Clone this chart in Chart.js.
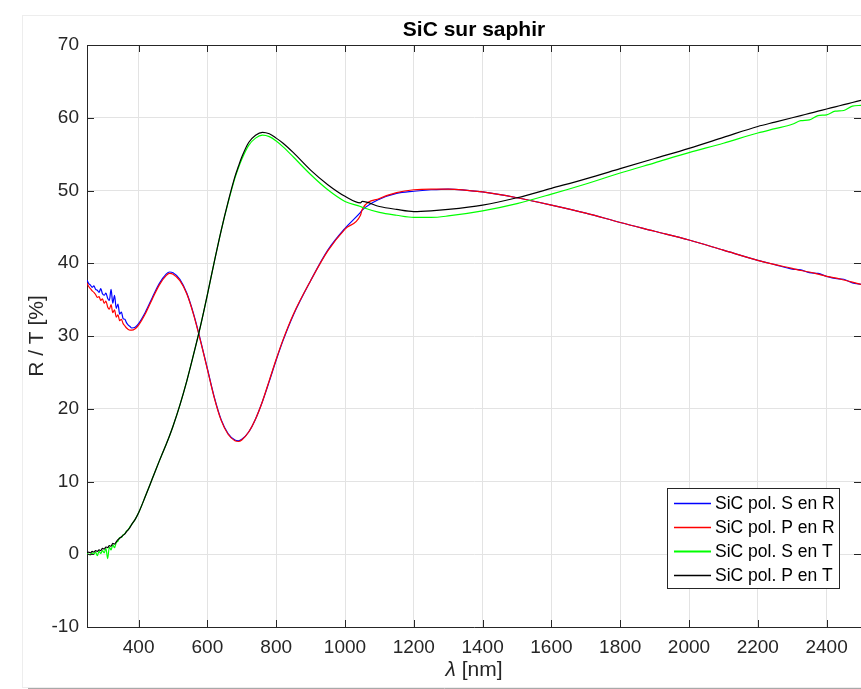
<!DOCTYPE html>
<html><head><meta charset="utf-8">
<script src="https://cdn.jsdelivr.net/npm/chart.js@4.4.1/dist/chart.umd.min.js"></script>
<style>html,body{margin:0;padding:0;background:#fff;overflow:hidden;}canvas{display:block;}</style>
</head><body>
<canvas id="c" width="861" height="689" style="width:861px;height:689px"></canvas>
<script>
// ---- data ----
const wavelengths = [
  250,255,260,265,270,275,280,285,290,295,300,305,310,315,320,325,330,335,340,345,350,355,360,365,370,375,380,
  390,400,420,440,460,480,490,500,
  520,540,560,580,600,620,640,660,680,690,700,
  720,740,760,780,800,
  820,850,900,950,1000,1045,1050,
  1100,1150,1200,1250,1300,
  1400,1500,1600,1700,1800,1900,2000,2100,2200,
  2250,2300,2325,2350,2375,2400,2425,2450,2475,2500];

const rPolS = [
  37.7,37.2,37.0,36.7,36.9,36.4,36.3,36.0,36.5,35.8,35.6,35.9,35.2,34.9,36.4,34.5,35.6,33.8,34.4,33.0,33.3,32.4,32.3,31.8,31.5,31.3,31.1,
  31.2,31.7,33.3,35.3,37.2,38.5,38.8,38.7,
  37.8,35.9,33.0,29.4,25.5,21.6,18.5,16.6,15.7,15.6,15.8,
  16.8,18.6,21.0,23.8,26.7,
  29.4,32.9,37.6,41.8,44.8,47.0,47.3,
  48.8,49.6,49.9,50.1,50.2,
  49.8,49.0,48.0,46.9,45.6,44.4,43.2,41.8,40.4,
  39.8,39.2,39.1,38.7,38.6,38.2,37.9,37.8,37.3,37.1];

const rPolP = [
  37.3,36.8,36.5,36.2,36.0,35.7,35.3,35.4,34.9,35.1,34.5,34.8,34.0,33.7,34.3,33.2,33.6,32.6,32.9,32.1,32.3,31.7,31.4,31.1,30.9,30.8,30.8,
  31.0,31.5,33.1,35.1,37.0,38.3,38.6,38.5,
  37.6,35.8,32.9,29.3,25.4,21.5,18.4,16.5,15.6,15.5,15.7,
  16.8,18.6,21.0,23.9,26.8,
  29.5,33.0,37.6,41.7,44.7,46.6,47.4,
  48.9,49.7,50.1,50.2,50.2,
  49.8,49.0,48.0,46.9,45.6,44.4,43.2,41.8,40.4,
  39.8,39.3,39.0,38.8,38.5,38.2,38.0,37.7,37.4,37.1];

const tPolS = [
  0.1,0.0,-0.1,0.2,0.0,0.3,-0.2,0.4,0.1,0.5,0.2,0.8,-0.6,1.0,0.6,1.3,0.9,1.6,1.8,2.3,2.3,2.7,2.8,3.2,3.4,3.8,4.1,
  4.8,5.7,8.0,10.4,12.8,15.1,16.3,17.6,
  20.5,23.8,27.5,31.4,35.7,40.2,44.5,48.3,51.7,53.1,54.3,
  56.2,57.2,57.6,57.4,56.8,
  56.0,54.6,52.2,50.1,48.5,47.8,47.7,
  47.0,46.6,46.3,46.3,46.5,
  47.2,48.2,49.5,50.9,52.4,53.8,55.2,56.5,57.9,
  58.5,59.1,59.6,59.7,60.3,60.4,60.9,61.0,61.6,61.7];

const tPolP = [
  0.2,0.3,0.2,0.4,0.3,0.5,0.4,0.6,0.5,0.8,0.7,1.0,0.9,1.2,1.1,1.5,1.4,1.7,2.0,2.2,2.4,2.6,2.8,3.1,3.4,3.7,4.1,
  4.8,5.7,8.0,10.4,12.8,15.1,16.3,17.6,
  20.5,23.8,27.5,31.4,35.7,40.2,44.5,48.4,51.9,53.3,54.6,
  56.6,57.6,58.0,57.8,57.2,
  56.5,55.2,52.8,50.8,49.2,48.3,48.5,
  47.8,47.4,47.1,47.2,47.4,
  48.0,49.0,50.3,51.6,53.0,54.4,55.8,57.3,58.8,
  59.4,60.0,60.3,60.6,60.9,61.2,61.5,61.8,62.1,62.4];

const xTicks = [400,600,800,1000,1200,1400,1600,1800,2000,2200,2400];
const yTicks = [-10,0,10,20,30,40,50,60,70];
const seriesLabels = ['SiC pol. S en R','SiC pol. P en R','SiC pol. S en T','SiC pol. P en T'];
const seriesColors = ['#0000ff','#ff0000','#00ff00','#000000'];
const titleText = 'SiC sur saphir';
const yTitle = 'R / T [%]';

// ---- chart ----
const FONT = "'Liberation Sans', Arial, Helvetica, sans-serif";
const INK = '#262626';
const pts = arr => wavelengths.map((w, i) => ({x: w, y: arr[i]}));
const values = [rPolS, rPolP, tPolS, tPolP];
const drawOrder = [4, 3, 2, 1];

const decor = {
  id: 'decor',
  beforeDraw(chart) {
    const ctx = chart.ctx;
    ctx.save();
    ctx.fillStyle = '#fff';
    ctx.fillRect(0, 0, chart.width, chart.height);
    ctx.strokeStyle = '#ededed';
    ctx.lineWidth = 1;
    ctx.strokeRect(22.5, 15.5, chart.width, 672);
    ctx.strokeStyle = '#a9a9a9';
    ctx.beginPath(); ctx.moveTo(28, 688.5); ctx.lineTo(chart.width, 688.5); ctx.stroke();
    ctx.restore();
  },
  afterDatasetsDraw(chart) {
    const ctx = chart.ctx, a = chart.chartArea;
    const xs = chart.scales.x, ys = chart.scales.y;
    ctx.save();
    ctx.strokeStyle = INK;
    ctx.lineWidth = 1;
    ctx.beginPath();
    ctx.moveTo(a.left, a.top + 0.5); ctx.lineTo(a.right, a.top + 0.5);
    const tl = 7;
    xTicks.forEach(v => {
      const px = Math.round(xs.getPixelForValue(v)) + 0.5;
      ctx.moveTo(px, a.bottom); ctx.lineTo(px, a.bottom - tl);
      ctx.moveTo(px, a.top); ctx.lineTo(px, a.top + tl);
    });
    yTicks.forEach(v => {
      const py = Math.round(ys.getPixelForValue(v)) + 0.5;
      ctx.moveTo(a.left, py); ctx.lineTo(a.left + tl, py);
      ctx.moveTo(a.right, py); ctx.lineTo(a.right - tl, py);
    });
    ctx.stroke();
    ctx.restore();
  },
  afterDraw(chart) {
    const ctx = chart.ctx, a = chart.chartArea;
    const cx = (a.left + a.right) / 2;
    ctx.save();
    ctx.fillStyle = '#000';
    ctx.font = 'bold 21px ' + FONT;
    ctx.textAlign = 'center';
    ctx.textBaseline = 'alphabetic';
    ctx.fillText(titleText, cx, 36);

    ctx.fillStyle = INK;
    const f1 = 'italic 21px ' + FONT, f2 = '21px ' + FONT;
    ctx.font = f1; const w1 = ctx.measureText('λ').width;
    ctx.font = f2; const w2 = ctx.measureText(' [nm]').width;
    const sx = cx - (w1 + w2) / 2;
    ctx.textAlign = 'left';
    ctx.font = f1; ctx.fillText('λ', sx, 676);
    ctx.font = f2; ctx.fillText(' [nm]', sx + w1, 676);

    ctx.save();
    ctx.translate(43, (a.top + a.bottom) / 2);
    ctx.rotate(-Math.PI / 2);
    ctx.textAlign = 'center';
    ctx.font = '21px ' + FONT;
    ctx.fillText(yTitle, 0, 0);
    ctx.restore();

    // legend
    const L = 667.5, T = 488.5, W = 172, H = 100;
    ctx.fillStyle = '#fff';
    ctx.fillRect(L, T, W, H);
    ctx.strokeStyle = INK;
    ctx.lineWidth = 1;
    ctx.strokeRect(L, T, W, H);
    ctx.font = '17.5px ' + FONT;
    ctx.textAlign = 'left';
    ctx.textBaseline = 'middle';
    seriesLabels.forEach((lab, i) => {
      const y = 503.5 + i * 24;
      ctx.strokeStyle = seriesColors[i];
      ctx.lineWidth = i === 2 ? 2 : 1.3;
      ctx.beginPath(); ctx.moveTo(674, y); ctx.lineTo(711, y); ctx.stroke();
      ctx.fillStyle = '#000';
      ctx.fillText(lab, 715, y + 1);
    });
    ctx.restore();
  }
};

new Chart(document.getElementById('c'), {
  type: 'line',
  data: {
    datasets: seriesLabels.map((lab, i) => ({
      label: lab,
      data: pts(values[i]),
      borderColor: seriesColors[i],
      backgroundColor: seriesColors[i],
      borderWidth: 1.2,
      pointRadius: 0,
      cubicInterpolationMode: 'monotone',
      fill: false,
      order: drawOrder[i]
    }))
  },
  options: {
    responsive: false,
    animation: false,
    devicePixelRatio: 1,
    layout: {padding: {top: 45, right: 0, bottom: 0, left: 0}},
    plugins: {legend: {display: false}, title: {display: false}, tooltip: {enabled: false}},
    scales: {
      x: {
        type: 'linear', min: 250, max: 2500,
        afterBuildTicks: s => { s.ticks = xTicks.map(v => ({value: v})); },
        afterFit: s => { s.height = 62; },
        ticks: {font: {family: FONT, size: 19}, color: INK, padding: 9, maxRotation: 0, autoSkip: false,
                callback: v => String(v)},
        grid: {color: '#e3e3e3', drawTicks: false},
        border: {display: true, color: INK}
      },
      y: {
        type: 'linear', min: -10, max: 70,
        afterBuildTicks: s => { s.ticks = yTicks.map(v => ({value: v})); },
        afterFit: s => { s.width = 87; },
        ticks: {font: {family: FONT, size: 19}, color: INK, padding: 8, callback: v => String(v)},
        grid: {color: '#e3e3e3', drawTicks: false},
        border: {display: true, color: INK}
      }
    }
  },
  plugins: [decor]
});
</script>
</body></html>
